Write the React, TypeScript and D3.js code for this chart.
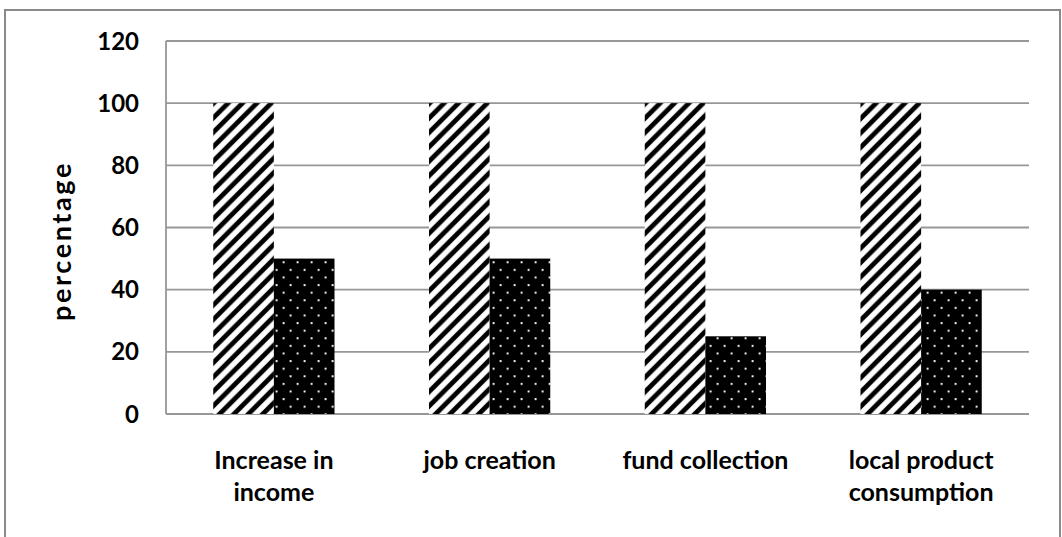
import React from "react";
import * as d3 from "d3";

// Chart data
const categories = ["Increase in income", "job creation", "fund collection", "local product consumption"];
const categoryLines = [["Increase in", "income"], ["job creation"], ["fund collection"], ["local product", "consumption"]];
const seriesNames = ["expected", "achieved"];
const expectedValues = [100, 100, 100, 100];
const achievedValues = [50, 50, 25, 40];
const yTicks = [0, 20, 40, 60, 80, 100, 120];

const W = 1062;
const H = 537;
const margin = { left: 166, right: 33, top: 41, bottom: 123 };
const FONT = "Lato, 'Open Sans', sans-serif";
const GRID = "#979797";

export default function App() {
  const plotRight = W - margin.right;
  const plotBottom = H - margin.bottom;

  const x = d3.scaleBand<string>().domain(categories).range([margin.left, plotRight]).padding(0);
  const groupW = x.step() * 0.562;
  const xs = d3.scaleBand<string>().domain(seriesNames).range([0, groupW]).padding(0);
  const y = d3.scaleLinear().domain([0, 120]).range([plotBottom, margin.top]);

  const series = [
    { name: seriesNames[0], values: expectedValues, fill: "url(#hatch)" },
    { name: seriesNames[1], values: achievedValues, fill: "url(#dots)" },
  ];

  return (
    <svg
      width={W}
      height={H}
      style={{ position: "absolute", left: 0, top: 0, display: "block", background: "#fff" }}
    >
      <defs>
        <pattern id="hatch" patternUnits="userSpaceOnUse" width={14.4} height={14.4}>
          <rect width={14.4} height={14.4} fill="#fff" />
          <path
            d="M-3.6,3.6 L3.6,-3.6 M0,14.4 L14.4,0 M10.8,18 L18,10.8"
            stroke="#000"
            strokeWidth={4.8}
          />
        </pattern>
        <pattern id="dots" patternUnits="userSpaceOnUse" width={14} height={15.2}>
          <rect width={14} height={15.2} fill="#000" />
          <rect x={2.6} y={2.9} width={2} height={2} fill="#f0f0f0" />
          <rect x={9.6} y={10.5} width={2} height={2} fill="#f0f0f0" />
        </pattern>
      </defs>

      {/* outer frame */}
      <rect x={5} y={10} width={1055} height={540} fill="none" stroke="#8a8a8a" strokeWidth={2} />

      {/* horizontal gridlines */}
      {yTicks.map((t) => (
        <line key={t} x1={margin.left} x2={plotRight} y1={y(t)} y2={y(t)} stroke={GRID} strokeWidth={1.8} />
      ))}
      {/* value axis */}
      <line x1={margin.left} x2={margin.left} y1={margin.top} y2={plotBottom} stroke={GRID} strokeWidth={1.8} />

      {/* tick labels */}
      {yTicks.map((t) => (
        <text
          key={"l" + t}
          x={139}
          y={y(t)}
          dy="0.36em"
          textAnchor="end"
          fontFamily={FONT}
          fontWeight="bold"
          fontSize={24}
          fill="#000"
        >
          {t}
        </text>
      ))}

      {/* bars */}
      {series.map((s) =>
        categories.map((c, i) => {
          const gx = (x(c) as number) + (x.step() - groupW) / 2;
          const bx = gx + (xs(s.name) as number);
          return (
            <rect
              key={s.name + c}
              x={bx}
              y={y(s.values[i])}
              width={xs.bandwidth()}
              height={plotBottom - y(s.values[i])}
              fill={s.fill}
            />
          );
        })
      )}

      {/* category labels */}
      {categories.map((c, i) => (
        <text
          key={"c" + c}
          x={(x(c) as number) + x.step() / 2}
          y={469}
          textAnchor="middle"
          fontFamily={FONT}
          fontWeight="bold"
          fontSize={25}
          fill="#000"
        >
          {categoryLines[i].map((line, j) => (
            <tspan key={j} x={(x(c) as number) + x.step() / 2} dy={j === 0 ? 0 : 32}>
              {line}
            </tspan>
          ))}
        </text>
      ))}

      {/* axis title */}
      <text
        transform={`translate(71,241) rotate(-90)`}
        textAnchor="middle"
        fontFamily={FONT}
        fontWeight="bold"
        fontSize={27}
        letterSpacing={2.6}
        fill="#000"
      >
        percentage
      </text>
    </svg>
  );
}
